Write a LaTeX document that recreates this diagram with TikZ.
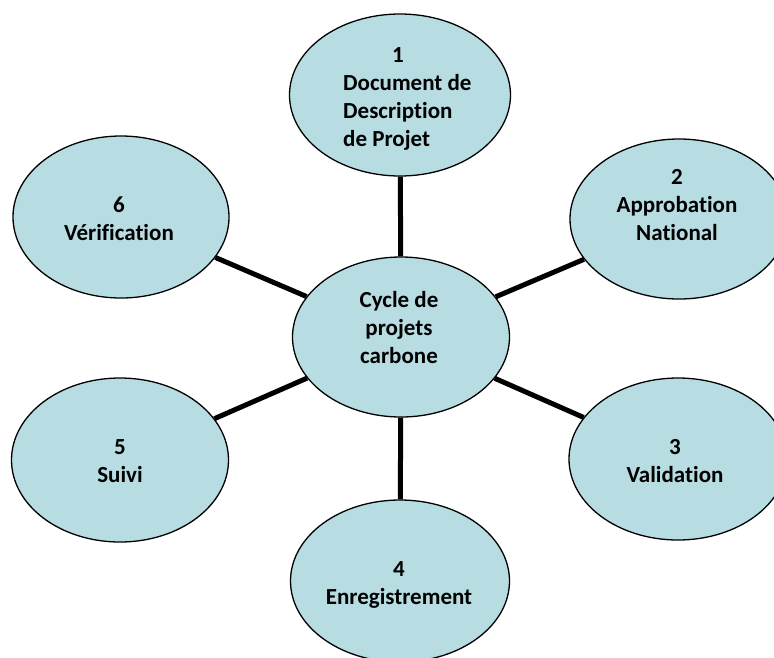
\documentclass[tikz,border=0pt]{standalone}
\usepackage{fontspec}
\setmainfont{Carlito}[RawFeature={-liga;-clig;-dlig}]
\usetikzlibrary{shapes.geometric}
\definecolor{bubble}{RGB}{183,221,227}
\tikzset{
  bubble/.style={ellipse, draw=black, line width=1.3pt, fill=bubble,
    inner sep=0pt, minimum width=#1},
  label/.style={font=\bfseries\fontsize{23}{28}\selectfont, align=center, inner sep=0pt},
  spoke/.style={line width=5pt, draw=black}
}
\begin{document}
\begin{tikzpicture}[x=1pt,y=-1pt]
\useasboundingbox (0,0) rectangle (774,657);

% hub and the six stages around it
\node[bubble=217pt, minimum height=160pt] (ec) at (401,337) {};
\node[bubble=221pt, minimum height=162pt] (e1) at (400,95) {};
\node[bubble=218pt, minimum height=160pt] (e2) at (679,219) {};
\node[bubble=218pt, minimum height=162pt] (e3) at (678,459) {};
\node[bubble=219pt, minimum height=162pt] (e4) at (400,581) {};
\node[bubble=217pt, minimum height=164pt] (e5) at (120,460) {};
\node[bubble=216pt, minimum height=162pt] (e6) at (121,217) {};

% spokes from the hub to each stage
\foreach \s in {e1,e2,e3,e4,e5,e6}
  \draw[spoke] (ec) -- (\s);

% texts
\node[label] (tc) at (399,328) {Cycle de\\projets\\carbone};
\node[label, align=left, anchor=west] (t1) at (343,99)
  {\hspace*{49pt}1\\Document de\\Description\\de Projet};
\node[label] (t2) at (677,205) {2\\Approbation\\National};
\node[label] (t3) at (675,461) {3\\Validation};
\node[label] (t4) at (399,584.5) {4\\Enregistrement};
\node[label] (t5) at (120,461) {5\\Suivi};
\node[label] (t6) at (119,218.5) {6\\Vérification};
\end{tikzpicture}
\end{document}
